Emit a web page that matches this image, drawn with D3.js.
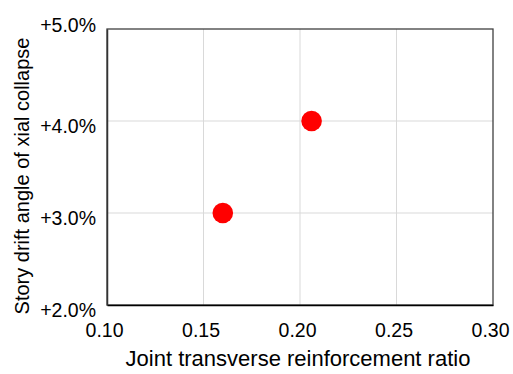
<!DOCTYPE html>
<html>
<head>
<meta charset="utf-8">
<script src="https://cdn.jsdelivr.net/npm/d3@7"></script>
<style>
  body { margin: 0; background: #fff; }
  text { font-family: "Liberation Sans", Arial, sans-serif; fill: #000; }
</style>
</head>
<body>
<div id="chart"></div>
<script>
// data
var ratios = [0.16, 0.206];
var drifts = [3.0, 4.0];
var xTicks = [0.10, 0.15, 0.20, 0.25, 0.30];
var yTicks = [2.0, 3.0, 4.0, 5.0];

var svgWidth = 513;
var svgHeight = 374;
var margin = { top: 29, right: 20, bottom: 69, left: 107 };
var width = 493 - margin.left;
var height = 305 - margin.top;

var svg = d3.select("#chart").append("svg")
  .attr("width", svgWidth)
  .attr("height", svgHeight);

var g = svg.append("g")
  .attr("transform", `translate(${margin.left}, ${margin.top})`);

var x = d3.scaleLinear().domain([0.10, 0.30]).range([0, width]);
var y = d3.scaleLinear().domain([2.0, 5.0]).range([height, 0]);

// gridlines
g.selectAll(".vgrid")
  .data(xTicks.slice(1, -1))
  .enter().append("line")
  .attr("x1", d => x(d)).attr("x2", d => x(d))
  .attr("y1", 0).attr("y2", height)
  .attr("stroke", "#d9d9d9").attr("stroke-width", 1);

g.selectAll(".hgrid")
  .data(yTicks.slice(1, -1))
  .enter().append("line")
  .attr("x1", 0).attr("x2", width)
  .attr("y1", d => y(d)).attr("y2", d => y(d))
  .attr("stroke", "#d9d9d9").attr("stroke-width", 1);

// frame
g.append("rect")
  .attr("x", 0).attr("y", 0)
  .attr("width", width).attr("height", height)
  .attr("fill", "none").attr("stroke", "#404040").attr("stroke-width", 1.3);

// axes
var bottomAxis = d3.axisBottom(x).tickValues(xTicks).tickSize(0).tickPadding(18)
  .tickFormat(d3.format(".2f"));
var leftAxis = d3.axisLeft(y).tickValues(yTicks).tickSize(0).tickPadding(11)
  .tickFormat(d => "+" + d.toFixed(1) + "%");

var xg = g.append("g").attr("transform", `translate(0, ${height})`).call(bottomAxis);
xg.select(".domain").attr("stroke", "#000").attr("stroke-width", 1.5);
xg.selectAll("text")
  .attr("font-size", "19.5px")
  .attr("dx", -3)
  .style("font-family", "Liberation Sans, Arial, sans-serif");

var yg = g.append("g").call(leftAxis);
yg.select(".domain").attr("stroke", "#333").attr("stroke-width", 1.5);
yg.selectAll("text")
  .attr("font-size", "19.5px")
  .attr("dy", d => d === 5.0 ? "2.7px" : "11.5px")
  .style("font-family", "Liberation Sans, Arial, sans-serif");

// points
g.selectAll("circle")
  .data(ratios)
  .enter().append("circle")
  .attr("cx", d => x(d))
  .attr("cy", (d, i) => y(drifts[i]))
  .attr("r", 10.3)
  .attr("fill", "#ff0000");

// axis titles
svg.append("text")
  .attr("x", 298)
  .attr("y", 366)
  .attr("text-anchor", "middle")
  .attr("font-size", "22px")
  .text("Joint transverse reinforcement ratio");

svg.append("text")
  .attr("transform", "translate(29, 176) rotate(-90)")
  .attr("text-anchor", "middle")
  .attr("font-size", "20px")
  .text("Story drift angle of xial collapse");
</script>
</body>
</html>
